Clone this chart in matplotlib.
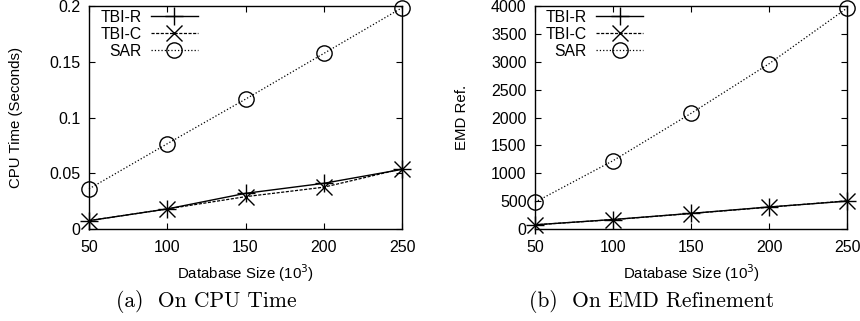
import numpy as np
import matplotlib.pyplot as plt

sizes = [50, 100, 150, 200, 250]

cpu_tbi_r = [0.0075, 0.018, 0.032, 0.041, 0.0535]
cpu_tbi_c = [0.0075, 0.018, 0.029, 0.0375, 0.054]
cpu_sar = [0.036, 0.0765, 0.1165, 0.1575, 0.1985]

emd_tbi_r = [75, 170, 280, 395, 500]
emd_tbi_c = [75, 168, 278, 392, 505]
emd_sar = [480, 1225, 2075, 2965, 3965]

plt.rcParams['font.family'] = ['Liberation Sans', 'DejaVu Sans']

fig = plt.figure(figsize=(8.6, 3.21), dpi=100)
ax1 = fig.add_axes([0.1035, 0.2866, 0.364, 0.6945])
ax2 = fig.add_axes([0.622, 0.2866, 0.363, 0.6945])


def draw(ax, r, c, s, ylim, yticks, ylabel):
    ax.plot(sizes, r, '-', color='black', lw=1.0, marker='+', ms=13, mew=1.0,
            label='TBI-R', clip_on=False)
    ax.plot(sizes, c, '--', color='black', lw=0.9, marker='x', ms=11, mew=1.0,
            label='TBI-C', dashes=(2.5, 1.2), clip_on=False)
    ax.plot(sizes, s, ':', color='black', lw=0.9, marker='o', ms=11, mew=1.0,
            mfc='none', label='SAR', clip_on=False)
    ax.set_xlim(50, 250)
    ax.set_ylim(*ylim)
    ax.set_xticks(sizes)
    ax.set_yticks(yticks)
    ax.tick_params(direction='in', top=True, right=True, labelsize=11.5, length=4)
    ax.tick_params(axis='x', pad=8)
    ax.tick_params(axis='y', pad=6)
    for sp in ax.spines.values():
        sp.set_linewidth(1.0)
    ax.set_xlabel('Database Size (10$^3$)', fontsize=10.8)
    ax.xaxis.set_label_coords(0.5, -0.15)
    ax.set_ylabel(ylabel, fontsize=10.8)
    ax.yaxis.set_label_coords(-0.21, 0.5)
    ax.legend(loc='upper right', frameon=False, markerfirst=False, numpoints=1,
              handlelength=3.0, fontsize=11.3, borderaxespad=0.0, borderpad=0.25,
              labelspacing=0.12, handletextpad=0.6, bbox_to_anchor=(0.36, 1.0))


draw(ax1, cpu_tbi_r, cpu_tbi_c, cpu_sar, (0, 0.2), [0, 0.05, 0.1, 0.15, 0.2],
     'CPU Time (Seconds)')
ax1.set_yticklabels(['0', '0.05', '0.1', '0.15', '0.2'])
draw(ax2, emd_tbi_r, emd_tbi_c, emd_sar, (0, 4000), np.arange(0, 4001, 500), 'EMD Ref.')

fig.text(0.2395, 0.062, '(a)  On CPU Time', ha='center', va='center', fontsize=15.5,
         family=['cmr10', 'DejaVu Serif'])
fig.text(0.758, 0.062, '(b)  On EMD Refinement', ha='center', va='center', fontsize=15.5,
         family=['cmr10', 'DejaVu Serif'])

fig.savefig('out.png', dpi=100)
